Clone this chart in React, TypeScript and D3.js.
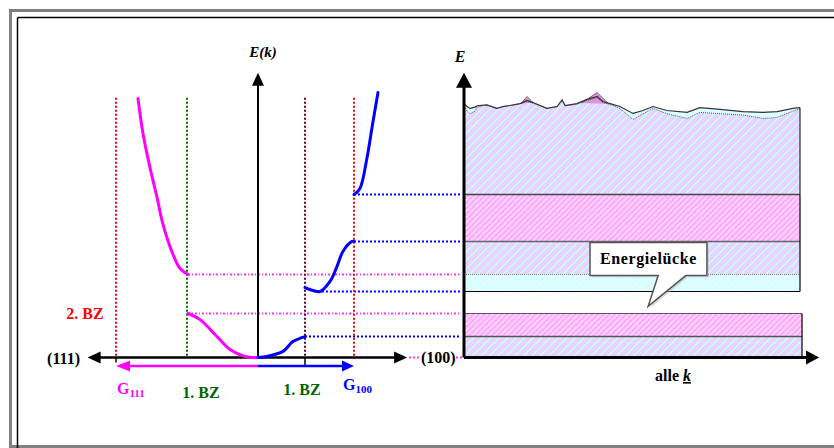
import React from "react"
import * as d3 from "d3"

const W = 834
const H = 448

// k measured in units of |G111|, energies in arbitrary units
const K_AXIS = [-1.2, 1.05]
const G111 = -1
const BZ111 = -0.5
const BZ100 = 0.331
const G100 = 0.676
const E_TOP = 10.75
const E_LINE_TOP = 9.8

// (k, E) points of the dispersion branches
const branch111Low: [number, number][] = [
  [-0.493, 1.66], [-0.408, 1.43], [-0.303, 0.87], [-0.197, 0.3], [-0.092, 0.04], [0, 0],
]
const branch111High: [number, number][] = [
  [-0.493, 3.13], [-0.549, 3.36], [-0.599, 3.89], [-0.669, 5.02], [-0.711, 6.04],
  [-0.761, 7.17], [-0.81, 8.45], [-0.845, 9.77],
]
const branch100Low: [number, number][] = [
  [0, 0], [0.063, 0.04], [0.176, 0.23], [0.246, 0.6], [0.331, 0.79],
]
const branch100Mid: [number, number][] = [
  [0.331, 2.64], [0.387, 2.53], [0.437, 2.49], [0.507, 2.87], [0.556, 3.43],
  [0.598, 4.0], [0.662, 4.38], [0.676, 4.38],
]
const branch100High: [number, number][] = [
  [0.676, 6.15], [0.718, 6.38], [0.768, 7.55], [0.803, 8.68], [0.845, 10.0],
]

// dotted level lines: start k, energy, direction
const guideK = [-0.493, -0.493, 0.331, 0.45, 0.676, 0.676]
const guideE = [3.13, 1.66, 0.79, 2.49, 4.38, 6.15]
const guideDir = ["111", "111", "100", "100", "100", "100"]

// allowed energy bands for all k
const bandLo = [0, 0.79, 2.49, 3.13, 4.38]
const bandHi = [0.79, 1.66, 3.13, 4.38, 6.15]
const bandKind = ["mix", "pink", "cyan", "mix", "pink"]
const bandEnd = [1.006, 1.006, 1, 1, 1]
const E_BAND_TOP_BASE = 6.15

// ragged upper edge of the top band (u = fraction of "alle k", E)
const edgeU = [0, 0.009, 0.018, 0.033, 0.039, 0.068, 0.098, 0.116, 0.137, 0.167, 0.1875, 0.205,
  0.247, 0.277, 0.292, 0.301, 0.336, 0.366, 0.396, 0.414, 0.435, 0.464, 0.503, 0.533, 0.5625,
  0.604, 0.664, 0.702, 0.762, 0.83, 0.89, 0.932, 0.979, 1]
const edgeTop = [9.58, 9.47, 9.4, 9.45, 9.5, 9.53, 9.4, 9.47, 9.51, 9.58, 9.7, 9.62,
  9.4, 9.47, 9.72, 9.51, 9.58, 9.74, 9.85, 9.65, 9.58, 9.47, 9.21, 9.32, 9.47,
  9.32, 9.25, 9.43, 9.36, 9.28, 9.25, 9.28, 9.4, 9.43]
const edgeLow = [9.55, 9.3, 9.2, 9.3, 9.45, 9.53, 9.4, 9.47, 9.51, 9.58, 9.66, 9.6,
  9.4, 9.47, 9.7, 9.5, 9.56, 9.7, 9.8, 9.62, 9.55, 9.4, 8.98, 9.2, 9.4,
  9.2, 9.02, 9.25, 9.2, 9.15, 9.02, 9.06, 9.3, 9.38]
const peakU = [[0.17, 0.1875, 0.205], [0.35, 0.396, 0.43]]
const peakE = [[9.58, 9.85, 9.62], [9.6, 10.0, 9.58]]

const MAGENTA = "#ff00ff"
const BLUE = "#0000ff"
const RED = "#ff0000"
const GREEN = "#006600"
const MAROON = "#660033"
const SERIF = "Liberation Serif, Times New Roman, DejaVu Serif, serif"

export default function App() {
  const x = d3.scaleLinear().domain([0, 1]).range([258, 400])
  const y = d3.scaleLinear().domain([0, 10]).range([357.5, 92.5])
  const u = d3.scaleLinear().domain([0, 1]).range([464, 800])

  const curve = d3
    .line<[number, number]>()
    .x(d => x(d[0]))
    .y(d => y(d[1]))
    .curve(d3.curveCatmullRom.alpha(0.5))

  const y0 = y(0)
  const bx0 = u(0)

  const topArea = d3
    .area<number>()
    .x(i => u(edgeU[i]))
    .y0(() => y(E_BAND_TOP_BASE))
    .y1(i => y(edgeTop[i]))
  const lowArea = d3
    .area<number>()
    .x(i => u(edgeU[i]))
    .y0(() => y(E_BAND_TOP_BASE))
    .y1(i => y(edgeLow[i]))
  const topLine = d3.line<number>().x(i => u(edgeU[i])).y(i => y(edgeTop[i]))
  const lowLine = d3.line<number>().x(i => u(edgeU[i])).y(i => y(edgeLow[i]))
  const idx = d3.range(edgeU.length)

  const fillFor = (k: string) =>
    k === "pink" ? "url(#hPink)" : k === "cyan" ? "url(#hCyan)" : "url(#hMix)"

  const vLines = [
    { k: G111, c: RED },
    { k: BZ111, c: GREEN },
    { k: BZ100, c: MAROON },
    { k: G100, c: RED },
  ]

  // callout anchored in the gap between bands
  const cx0 = u(0.375)
  const cx1 = u(0.723)
  const cy0 = y(4.38) + 1
  const cy1 = y(3.13) + 1
  const tip = [u(0.548), y(1.93)]

  const txt = { fontFamily: SERIF, fontWeight: 700 } as React.CSSProperties

  return (
    <svg
      width={W}
      height={H}
      style={{ position: "absolute", left: 0, top: 0, background: "#fff", fontFamily: SERIF }}
    >
      <defs>
        <pattern id="hPink" patternUnits="userSpaceOnUse" width={4} height={4} patternTransform="rotate(45)">
          <rect width={4} height={4} fill="#ffd6ff" />
          <rect width={2} height={4} fill="#ffa6ff" />
        </pattern>
        <pattern id="hMix" patternUnits="userSpaceOnUse" width={6} height={6} patternTransform="rotate(45)">
          <rect width={6} height={6} fill="#d6d6ff" />
          <rect x={0} width={1.5} height={6} fill="#ffccff" />
          <rect x={3} width={1.5} height={6} fill="#d4ffff" />
        </pattern>
        <pattern id="hCyan" patternUnits="userSpaceOnUse" width={4} height={4} patternTransform="rotate(45)">
          <rect width={4} height={4} fill="#e4ffff" />
          <rect width={1.5} height={4} fill="#ccffff" />
        </pattern>
      </defs>

      {/* frame */}
      <rect x={10.5} y={10.5} width={900} height={436} fill="none" stroke="#808080" strokeWidth={3} />
      <line x1={17.5} y1={17.5} x2={W} y2={17.5} stroke="#000" strokeWidth={1.5} />
      <line x1={17.5} y1={17.5} x2={17.5} y2={H} stroke="#000" strokeWidth={1.5} />

      {/* ---------- right: bands for all k ---------- */}
      <g>
        <path d={topArea(idx) ?? ""} fill="#dcffff" />
        <path d={lowArea(idx) ?? ""} fill="url(#hMix)" />
        {peakU.map((pu, j) => (
          <path
            key={j}
            d={d3.line<number>().x(i => u(pu[i])).y(i => y(peakE[j][i]))([0, 1, 2]) ?? ""}
            fill="#e090e0"
            stroke="#707070"
            strokeWidth={1}
          />
        ))}
        <path d={lowLine(idx) ?? ""} fill="none" stroke="#555" strokeWidth={1} strokeDasharray="1,1" />
        <path d={topLine(idx) ?? ""} fill="none" stroke="#333" strokeWidth={1.2} />
        <line x1={u(1)} x2={u(1)} y1={y(edgeTop[edgeTop.length - 1])} y2={y(E_BAND_TOP_BASE)} stroke="#000" />

        {bandLo.map((lo, i) => (
          <rect
            key={i}
            x={bx0}
            y={y(bandHi[i])}
            width={u(bandEnd[i]) - bx0}
            height={y(lo) - y(bandHi[i])}
            fill={fillFor(bandKind[i])}
          />
        ))}
        {/* band outlines */}
        <line x1={bx0} x2={u(1)} y1={y(6.15)} y2={y(6.15)} stroke="#444" strokeWidth={1.5} />
        <line x1={bx0} x2={u(1)} y1={y(4.38)} y2={y(4.38)} stroke="#666" strokeWidth={1.5} />
        <line x1={bx0} x2={u(1)} y1={y(3.13)} y2={y(3.13)} stroke="#777" strokeWidth={1} strokeDasharray="1,1" />
        <line x1={bx0} x2={u(1)} y1={y(2.49)} y2={y(2.49)} stroke="#000" strokeWidth={1.2} />
        <line x1={u(1)} x2={u(1)} y1={y(6.15)} y2={y(2.49)} stroke="#000" strokeWidth={1.2} />
        <line x1={bx0} x2={u(1.006)} y1={y(1.66)} y2={y(1.66)} stroke="#555" strokeWidth={1.2} />
        <line x1={bx0} x2={u(1.006)} y1={y(0.79)} y2={y(0.79)} stroke="#555" strokeWidth={1.5} />
        <line x1={u(1.006)} x2={u(1.006)} y1={y(1.66)} y2={y0} stroke="#000" strokeWidth={1.2} />

        {/* axes */}
        <line x1={bx0} x2={bx0} y1={y0} y2={y(E_TOP) + 14} stroke="#000" strokeWidth={3} />
        <path d={`M${bx0},${y(E_TOP)} L${bx0 + 8},${y(E_TOP) + 15} L${bx0 - 8},${y(E_TOP) + 15}Z`} fill="#000" />
        <line x1={bx0} x2={u(1.02)} y1={y0} y2={y0} stroke="#000" strokeWidth={3} />
        <path d={`M${u(1.057)},${y0} L${u(1.018)},${y0 - 7} L${u(1.018)},${y0 + 7}Z`} fill="#000" />
        <text x={bx0 - 4} y={62} fontSize={16} style={{ ...txt, fontStyle: "italic" }} textAnchor="middle">
          E
        </text>
        <text x={u(0.622)} y={381} fontSize={16} style={txt} textAnchor="middle">
          alle{" "}
          <tspan fontStyle="italic" style={{ textDecoration: "underline" }}>
            k
          </tspan>
        </text>

        {/* callout */}
        <path
          d={`M${cx0 + 2},${cy0 + 2} H${cx1 + 2} V${cy1 + 2} H${u(0.66) + 2} L${tip[0] + 2},${tip[1] + 2} L${u(0.578) + 2},${cy1 + 2} H${cx0 + 2}Z`}
          fill="#bbb"
          opacity={0.5}
        />
        <path
          d={`M${cx0},${cy0} H${cx1} V${cy1} H${u(0.66)} L${tip[0]},${tip[1]} L${u(0.578)},${cy1} H${cx0}Z`}
          fill="#fff"
          stroke="#555"
          strokeWidth={1.5}
        />
        <text
          x={(cx0 + cx1) / 2}
          y={cy0 + 22}
          fontSize={16}
          style={txt}
          textAnchor="middle"
          letterSpacing={0.6}
        >
          Energielücke
        </text>
      </g>

      {/* ---------- left: E(k) ---------- */}
      <g>
        {/* dotted level lines */}
        {guideK.map((k, i) => (
          <line
            key={i}
            x1={x(k)}
            x2={bx0 - 4}
            y1={y(guideE[i])}
            y2={y(guideE[i])}
            stroke={guideDir[i] === "111" ? MAGENTA : BLUE}
            strokeWidth={2}
            strokeDasharray={guideDir[i] === "111" ? "2,2,1,2" : "2,2"}
            opacity={guideDir[i] === "111" ? 0.8 : 1}
          />
        ))}
        <line x1={x(K_AXIS[1]) + 2} x2={421} y1={y0} y2={y0} stroke={MAGENTA} strokeWidth={2} strokeDasharray="2,2" opacity={0.8} />
        <line x1={456} x2={bx0 - 2} y1={y0} y2={y0} stroke={MAGENTA} strokeWidth={2} strokeDasharray="2,2" opacity={0.8} />
        <text x={421} y={363} fontSize={16} style={txt}>
          (100)
        </text>

        {vLines.map((v, i) => (
          <line
            key={i}
            x1={x(v.k)}
            x2={x(v.k)}
            y1={y(E_LINE_TOP)}
            y2={y0}
            stroke={v.c}
            strokeWidth={2}
            strokeDasharray="2,2"
          />
        ))}

        {/* axes */}
        <line x1={x(0)} x2={x(0)} y1={y0} y2={y(E_TOP) + 12} stroke="#000" strokeWidth={2} />
        <path d={`M${x(0)},${y(E_TOP)} L${x(0) + 6},${y(E_TOP) + 13} L${x(0) - 6},${y(E_TOP) + 13}Z`} fill="#000" />
        <line x1={x(K_AXIS[0]) + 10} x2={x(K_AXIS[1]) - 10} y1={y0} y2={y0} stroke="#000" strokeWidth={2.5} />
        <path d={`M${x(K_AXIS[0])},${y0} L${x(K_AXIS[0]) + 13},${y0 - 6} L${x(K_AXIS[0]) + 13},${y0 + 6}Z`} fill="#000" />
        <path d={`M${x(K_AXIS[1])},${y0} L${x(K_AXIS[1]) - 13},${y0 - 6} L${x(K_AXIS[1]) - 13},${y0 + 6}Z`} fill="#000" />
        <line x1={x(G111)} x2={x(G111)} y1={y0} y2={y0 + 5} stroke="#000" strokeWidth={1.5} />
        <line x1={x(BZ100)} x2={x(BZ100)} y1={y0} y2={y0 + 8} stroke="#000" strokeWidth={1.5} />

        {/* reciprocal lattice vectors */}
        <line x1={x(0)} x2={x(G111) + 12} y1={y0 + 8.5} y2={y0 + 8.5} stroke={MAGENTA} strokeWidth={2.5} />
        <path d={`M${x(G111)},${y0 + 8.5} L${x(G111) + 14},${y0 + 3} L${x(G111) + 14},${y0 + 14}Z`} fill={MAGENTA} />
        <line x1={x(0)} x2={x(G100) - 12} y1={y0 + 8.5} y2={y0 + 8.5} stroke={BLUE} strokeWidth={2.5} />
        <path d={`M${x(G100)},${y0 + 8.5} L${x(G100) - 12},${y0 + 3} L${x(G100) - 12},${y0 + 14}Z`} fill={BLUE} />

        {/* dispersion branches */}
        {[branch111Low, branch111High].map((b, i) => (
          <path key={"m" + i} d={curve(b) ?? ""} fill="none" stroke={MAGENTA} strokeWidth={3} strokeLinecap="round" />
        ))}
        {[branch100Low, branch100Mid, branch100High].map((b, i) => (
          <path key={"b" + i} d={curve(b) ?? ""} fill="none" stroke={BLUE} strokeWidth={3} strokeLinecap="round" />
        ))}

        {/* labels */}
        <text x={x(0) + 5} y={57} fontSize={15} style={{ ...txt, fontStyle: "italic" }} textAnchor="middle">
          E(k)
        </text>
        <text x={80} y={364} fontSize={16} style={txt} textAnchor="end">
          (111)
        </text>
        <text x={85} y={319} fontSize={16} style={txt} fill={RED} textAnchor="middle">
          2. BZ
        </text>
        <text x={x(G111) + 1} y={394} fontSize={16} style={txt} fill={MAGENTA}>
          G<tspan fontSize={11} dy={3}>111</tspan>
        </text>
        <text x={x(BZ111) + 14} y={398} fontSize={16} style={txt} fill={GREEN} textAnchor="middle">
          1. BZ
        </text>
        <text x={x(BZ100) - 3} y={395} fontSize={16} style={txt} fill={GREEN} textAnchor="middle">
          1. BZ
        </text>
        <text x={x(G100) - 11} y={390} fontSize={16} style={txt} fill={BLUE}>
          G<tspan fontSize={11} dy={3}>100</tspan>
        </text>
      </g>
    </svg>
  )
}
